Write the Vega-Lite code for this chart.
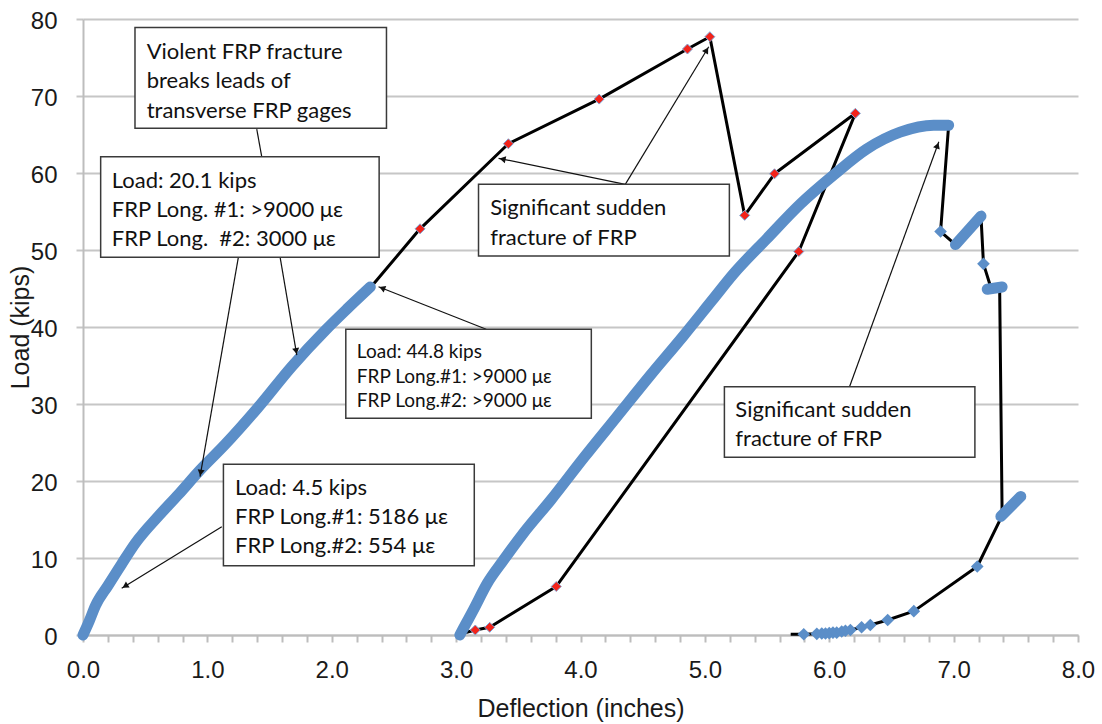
{
  "$schema": "https://vega.github.io/schema/vega-lite/v6.json",
  "autosize": {"type": "none"},
  "padding": {"left": 83, "top": 19, "right": 24, "bottom": 89},
  "width": 995,
  "height": 616,
  "background": "white",
  "config": {"view": {"stroke": null}},
  "resolve": {"axis": {"x": "independent"}},
  "datasets": {
    "blue": [
      {"seg": 1, "i": 1, "x": 0, "y": 0}, {"seg": 1, "i": 2, "x": 0.05, "y": 1.8}, {"seg": 1, "i": 3, "x": 0.10, "y": 3.8},
      {"seg": 1, "i": 4, "x": 0.20, "y": 6.4}, {"seg": 1, "i": 5, "x": 0.31, "y": 9.2}, {"seg": 1, "i": 6, "x": 0.42, "y": 11.9},
      {"seg": 1, "i": 7, "x": 0.61, "y": 15.5}, {"seg": 1, "i": 8, "x": 0.77, "y": 18.3}, {"seg": 1, "i": 9, "x": 0.94, "y": 21.4},
      {"seg": 1, "i": 10, "x": 1.14, "y": 24.7}, {"seg": 1, "i": 11, "x": 1.41, "y": 29.6}, {"seg": 1, "i": 12, "x": 1.68, "y": 34.9},
      {"seg": 1, "i": 13, "x": 1.95, "y": 39.6}, {"seg": 1, "i": 14, "x": 2.12, "y": 42.3}, {"seg": 1, "i": 15, "x": 2.31, "y": 45.2},
      {"seg": 2, "i": 1, "x": 3.03, "y": 0}, {"seg": 2, "i": 2, "x": 3.08, "y": 1.5}, {"seg": 2, "i": 3, "x": 3.14, "y": 3.3},
      {"seg": 2, "i": 4, "x": 3.25, "y": 6.7}, {"seg": 2, "i": 5, "x": 3.38, "y": 9.7}, {"seg": 2, "i": 6, "x": 3.54, "y": 13.2},
      {"seg": 2, "i": 7, "x": 3.76, "y": 17.5}, {"seg": 2, "i": 8, "x": 4.03, "y": 23.1}, {"seg": 2, "i": 9, "x": 4.29, "y": 28.3},
      {"seg": 2, "i": 10, "x": 4.56, "y": 33.7}, {"seg": 2, "i": 11, "x": 4.83, "y": 38.9}, {"seg": 2, "i": 12, "x": 5.06, "y": 43.5},
      {"seg": 2, "i": 13, "x": 5.23, "y": 46.9}, {"seg": 2, "i": 14, "x": 5.50, "y": 51.5}, {"seg": 2, "i": 15, "x": 5.77, "y": 56.0},
      {"seg": 2, "i": 16, "x": 6.04, "y": 59.8}, {"seg": 2, "i": 17, "x": 6.30, "y": 63.1}, {"seg": 2, "i": 18, "x": 6.57, "y": 65.3},
      {"seg": 2, "i": 19, "x": 6.84, "y": 66.2}, {"seg": 2, "i": 20, "x": 6.96, "y": 66.2},
      {"seg": 3, "i": 1, "x": 7.015, "y": 50.7}, {"seg": 3, "i": 2, "x": 7.22, "y": 54.4},
      {"seg": 4, "i": 1, "x": 7.27, "y": 44.9}, {"seg": 4, "i": 2, "x": 7.39, "y": 45.2},
      {"seg": 5, "i": 1, "x": 7.38, "y": 15.4}, {"seg": 5, "i": 2, "x": 7.54, "y": 18.0}
    ],
    "black": [
      {"seg": "A", "i": 1, "x": 2.30, "y": 44.9}, {"seg": "A", "i": 2, "x": 2.71, "y": 52.75}, {"seg": "A", "i": 3, "x": 3.42, "y": 63.8},
      {"seg": "A", "i": 4, "x": 4.15, "y": 69.6}, {"seg": "A", "i": 5, "x": 4.86, "y": 76.1}, {"seg": "A", "i": 6, "x": 5.04, "y": 77.7},
      {"seg": "A", "i": 7, "x": 5.32, "y": 54.5}, {"seg": "A", "i": 8, "x": 5.56, "y": 59.9}, {"seg": "A", "i": 9, "x": 6.21, "y": 67.75},
      {"seg": "A", "i": 10, "x": 5.755, "y": 49.8}, {"seg": "A", "i": 11, "x": 3.805, "y": 6.3}, {"seg": "A", "i": 12, "x": 3.27, "y": 1.0},
      {"seg": "A", "i": 13, "x": 3.154, "y": 0.65}, {"seg": "A", "i": 14, "x": 3.07, "y": 0.3},
      {"seg": "B", "i": 1, "x": 6.96, "y": 66.2}, {"seg": "B", "i": 2, "x": 6.895, "y": 52.4}, {"seg": "B", "i": 3, "x": 7.015, "y": 50.7},
      {"seg": "B", "i": 4, "x": 7.22, "y": 54.4}, {"seg": "B", "i": 5, "x": 7.24, "y": 48.2}, {"seg": "B", "i": 6, "x": 7.30, "y": 45.1},
      {"seg": "B", "i": 7, "x": 7.37, "y": 45.2}, {"seg": "B", "i": 8, "x": 7.39, "y": 15.5},
      {"seg": "C", "i": 1, "x": 5.69, "y": 0.1}, {"seg": "C", "i": 2, "x": 5.795, "y": 0.1}, {"seg": "C", "i": 3, "x": 5.90, "y": 0.15},
      {"seg": "C", "i": 4, "x": 6.06, "y": 0.3}, {"seg": "C", "i": 5, "x": 6.17, "y": 0.65}, {"seg": "C", "i": 6, "x": 6.26, "y": 1.0},
      {"seg": "C", "i": 7, "x": 6.33, "y": 1.3}, {"seg": "C", "i": 8, "x": 6.47, "y": 1.95}, {"seg": "C", "i": 9, "x": 6.68, "y": 3.1},
      {"seg": "C", "i": 10, "x": 7.19, "y": 8.9}, {"seg": "C", "i": 11, "x": 7.39, "y": 15.5}
    ],
    "bluePts": [
      {"x": 6.895, "y": 52.4}, {"x": 7.24, "y": 48.2},
      {"x": 5.795, "y": 0.1}, {"x": 5.90, "y": 0.15}, {"x": 5.94, "y": 0.2}, {"x": 5.97, "y": 0.2}, {"x": 6.00, "y": 0.25},
      {"x": 6.03, "y": 0.3}, {"x": 6.06, "y": 0.3}, {"x": 6.10, "y": 0.45}, {"x": 6.13, "y": 0.55}, {"x": 6.17, "y": 0.65},
      {"x": 6.26, "y": 1.0}, {"x": 6.33, "y": 1.3}, {"x": 6.47, "y": 1.95}, {"x": 6.68, "y": 3.1}, {"x": 7.19, "y": 8.9}
    ],
    "redPts": [
      {"x": 2.71, "y": 52.75}, {"x": 3.42, "y": 63.8}, {"x": 4.15, "y": 69.6}, {"x": 4.86, "y": 76.1}, {"x": 5.04, "y": 77.7},
      {"x": 5.32, "y": 54.5}, {"x": 5.56, "y": 59.9}, {"x": 6.21, "y": 67.75}, {"x": 5.755, "y": 49.8}, {"x": 3.805, "y": 6.3},
      {"x": 3.27, "y": 1.0}, {"x": 3.154, "y": 0.65}
    ],
    "boxes": [
      {"x1": 0.418, "x2": 2.44, "y1": 65.8, "y2": 78.9},
      {"x1": 0.142, "x2": 2.381, "y1": 49.05, "y2": 62.12},
      {"x1": 2.113, "x2": 4.087, "y1": 28.14, "y2": 39.70},
      {"x1": 1.129, "x2": 3.146, "y1": 9.0, "y2": 22.17},
      {"x1": 3.180, "x2": 5.197, "y1": 49.22, "y2": 58.53},
      {"x1": 5.157, "x2": 7.171, "y1": 23.08, "y2": 32.25}
    ],
    "notes": [
      {"x": 0.512, "y": 74.77, "text": "Violent FRP fracture"},
      {"x": 0.512, "y": 71.0, "text": "breaks leads of"},
      {"x": 0.512, "y": 67.1, "text": "transverse FRP gages"},
      {"x": 0.231, "y": 58.01, "text": "Load: 20.1 kips"},
      {"x": 0.231, "y": 54.32, "text": "FRP Long. #1: >9000 με"},
      {"x": 0.231, "y": 50.52, "text": "FRP Long. \u00a0#2: 3000 με"},
      {"x": 1.223, "y": 18.18, "text": "Load: 4.5 kips"},
      {"x": 1.223, "y": 14.42, "text": "FRP Long.#1: 5186 με"},
      {"x": 1.223, "y": 10.61, "text": "FRP Long.#2: 554 με"},
      {"x": 3.274, "y": 54.55, "text": "Significant sudden"},
      {"x": 3.274, "y": 50.65, "text": "fracture of FRP"},
      {"x": 5.245, "y": 28.35, "text": "Significant sudden"},
      {"x": 5.245, "y": 24.58, "text": "fracture of FRP"}
    ],
    "notesSmall": [
      {"x": 2.202, "y": 35.93, "text": "Load: 44.8 kips"},
      {"x": 2.202, "y": 32.77, "text": "FRP Long.#1: >9000 με"},
      {"x": 2.202, "y": 29.57, "text": "FRP Long.#2: >9000 με"}
    ],
    "arrows": [
      {"x1": 1.397, "y1": 65.71, "x2": 1.437, "y2": 62.12},
      {"x1": 1.249, "y1": 49.05, "x2": 0.941, "y2": 20.56},
      {"x1": 1.585, "y1": 49.05, "x2": 1.719, "y2": 36.36},
      {"x1": 3.242, "y1": 39.70, "x2": 2.376, "y2": 45.23},
      {"x1": 1.116, "y1": 14.06, "x2": 0.311, "y2": 6.06},
      {"x1": 4.360, "y1": 58.53, "x2": 3.341, "y2": 61.91},
      {"x1": 4.360, "y1": 58.53, "x2": 5.031, "y2": 76.40},
      {"x1": 6.163, "y1": 32.25, "x2": 6.881, "y2": 64.06}
    ]
  },
  "layer": [
    {
      "data": {"name": "black"},
      "mark": {"type": "line", "color": "#000000", "strokeWidth": 3, "strokeJoin": "round"},
      "encoding": {
        "x": {"field": "x", "type": "quantitative", "scale": {"domain": [0, 8], "nice": false},
          "axis": {
            "orient": "bottom",
            "title": "Deflection (inches)",
            "values": [0, 1, 2, 3, 4, 5, 6, 7, 8],
            "format": ".1f",
            "grid": false,
            "domainColor": "#BDBDBD", "domainWidth": 2,
            "tickColor": "#BDBDBD", "tickSize": 7, "tickWidth": 2,
            "labelFont": "Liberation Sans", "labelFontSize": 24, "labelColor": "#1a1a1a",
            "labelPadding": 16, "labelBaseline": "top", "labelFlush": false, "labelOverlap": false,
            "titleFont": "Liberation Sans", "titleFontSize": 25, "titleFontWeight": "normal", "titleColor": "#1a1a1a",
            "titleBaseline": "top", "titleY": 61
          }},
        "y": {"field": "y", "type": "quantitative", "scale": {"domain": [0, 80], "nice": false},
          "axis": {
            "title": "Load (kips)",
            "values": [0, 10, 20, 30, 40, 50, 60, 70, 80],
            "grid": true, "gridColor": "#C6C6C6", "gridWidth": 2,
            "domainColor": "#BDBDBD", "domainWidth": 2,
            "tickColor": "#C6C6C6", "tickSize": 7, "tickWidth": 2,
            "labelFont": "Liberation Sans", "labelFontSize": 24, "labelColor": "#1a1a1a",
            "labelPadding": 19, "labelBaseline": "middle", "labelOffset": 2, "labelFlush": false,
            "titleFont": "Liberation Sans", "titleFontSize": 25, "titleFontWeight": "normal", "titleColor": "#1a1a1a",
            "titleAngle": 270, "titleAlign": "center", "titleBaseline": "bottom", "titleX": -50, "titleY": 308
          }},
        "detail": {"field": "seg"},
        "order": {"field": "i", "type": "quantitative"}
      }
    },
    {
      "data": {"name": "blue"},
      "mark": {"type": "line", "color": "#5B8EC8", "strokeWidth": 11, "strokeCap": "round", "strokeJoin": "round", "interpolate": "monotone"},
      "encoding": {
        "x": {"field": "x", "type": "quantitative",
          "axis": {
            "orient": "bottom",
            "title": null,
            "values": [0.2, 0.4, 0.6, 0.8, 1.2, 1.4, 1.6, 1.8, 2.2, 2.4, 2.6, 2.8, 3.2, 3.4, 3.6, 3.8, 4.2, 4.4, 4.6, 4.8, 5.2, 5.4, 5.6, 5.8, 6.2, 6.4, 6.6, 6.8, 7.2, 7.4, 7.6, 7.8],
            "labels": false, "domain": false, "grid": false,
            "tickColor": "#BDBDBD", "tickSize": 7, "tickWidth": 2
          }},
        "y": {"field": "y", "type": "quantitative"},
        "detail": {"field": "seg"},
        "order": {"field": "i", "type": "quantitative"}
      }
    },
    {
      "data": {"name": "bluePts"},
      "mark": {"type": "point", "shape": "diamond", "filled": true, "color": "#5B8EC8", "size": 160, "opacity": 1},
      "encoding": {
        "x": {"field": "x", "type": "quantitative", "axis": null},
        "y": {"field": "y", "type": "quantitative"}
      }
    },
    {
      "data": {"name": "redPts"},
      "mark": {"type": "point", "shape": "diamond", "filled": true, "fill": "#F2231A", "stroke": "#7FA6D6", "strokeWidth": 1, "size": 100, "opacity": 1},
      "encoding": {
        "x": {"field": "x", "type": "quantitative", "axis": null},
        "y": {"field": "y", "type": "quantitative"}
      }
    },
    {
      "data": {"name": "arrows"},
      "mark": {"type": "rule", "color": "#111111", "strokeWidth": 1.2},
      "encoding": {
        "x": {"field": "x1", "type": "quantitative", "axis": null},
        "y": {"field": "y1", "type": "quantitative"},
        "x2": {"field": "x2"},
        "y2": {"field": "y2"}
      }
    },
    {
      "data": {"values": [{"x": 0.946, "y": 21.07}]},
      "mark": {"type": "point", "shape": "triangle-up", "filled": true, "color": "#111111", "size": 50, "opacity": 1, "angle": 189.9},
      "encoding": {"x": {"field": "x", "type": "quantitative", "axis": null}, "y": {"field": "y", "type": "quantitative"}}
    },
    {
      "data": {"values": [{"x": 1.714, "y": 36.87}]},
      "mark": {"type": "point", "shape": "triangle-up", "filled": true, "color": "#111111", "size": 50, "opacity": 1, "angle": 170.3},
      "encoding": {"x": {"field": "x", "type": "quantitative", "axis": null}, "y": {"field": "y", "type": "quantitative"}}
    },
    {
      "data": {"values": [{"x": 2.405, "y": 45.04}]},
      "mark": {"type": "point", "shape": "triangle-up", "filled": true, "color": "#111111", "size": 50, "opacity": 1, "angle": 291.6},
      "encoding": {"x": {"field": "x", "type": "quantitative", "axis": null}, "y": {"field": "y", "type": "quantitative"}}
    },
    {
      "data": {"values": [{"x": 0.339, "y": 6.34}]},
      "mark": {"type": "point", "shape": "triangle-up", "filled": true, "color": "#111111", "size": 50, "opacity": 1, "angle": 238.4},
      "encoding": {"x": {"field": "x", "type": "quantitative", "axis": null}, "y": {"field": "y", "type": "quantitative"}}
    },
    {
      "data": {"values": [{"x": 3.373, "y": 61.80}]},
      "mark": {"type": "point", "shape": "triangle-up", "filled": true, "color": "#111111", "size": 50, "opacity": 1, "angle": 281.6},
      "encoding": {"x": {"field": "x", "type": "quantitative", "axis": null}, "y": {"field": "y", "type": "quantitative"}}
    },
    {
      "data": {"values": [{"x": 5.014, "y": 75.96}]},
      "mark": {"type": "point", "shape": "triangle-up", "filled": true, "color": "#111111", "size": 50, "opacity": 1, "angle": 31.2},
      "encoding": {"x": {"field": "x", "type": "quantitative", "axis": null}, "y": {"field": "y", "type": "quantitative"}}
    },
    {
      "data": {"values": [{"x": 6.870, "y": 63.57}]},
      "mark": {"type": "point", "shape": "triangle-up", "filled": true, "color": "#111111", "size": 50, "opacity": 1, "angle": 20.0},
      "encoding": {"x": {"field": "x", "type": "quantitative", "axis": null}, "y": {"field": "y", "type": "quantitative"}}
    },
    {
      "data": {"name": "boxes"},
      "mark": {"type": "rect", "fill": "white", "stroke": "#3a3a3a", "strokeWidth": 1.5},
      "encoding": {
        "x": {"field": "x1", "type": "quantitative", "axis": null},
        "x2": {"field": "x2"},
        "y": {"field": "y1", "type": "quantitative"},
        "y2": {"field": "y2"}
      }
    },
    {
      "data": {"name": "notes"},
      "mark": {"type": "text", "align": "left", "baseline": "alphabetic", "font": "Lato", "fontSize": 22, "color": "#111111"},
      "encoding": {
        "x": {"field": "x", "type": "quantitative", "axis": null},
        "y": {"field": "y", "type": "quantitative"},
        "text": {"field": "text"}
      }
    },
    {
      "data": {"name": "notesSmall"},
      "mark": {"type": "text", "align": "left", "baseline": "alphabetic", "font": "Lato", "fontSize": 19, "color": "#111111"},
      "encoding": {
        "x": {"field": "x", "type": "quantitative", "axis": null},
        "y": {"field": "y", "type": "quantitative"},
        "text": {"field": "text"}
      }
    }
  ]
}
